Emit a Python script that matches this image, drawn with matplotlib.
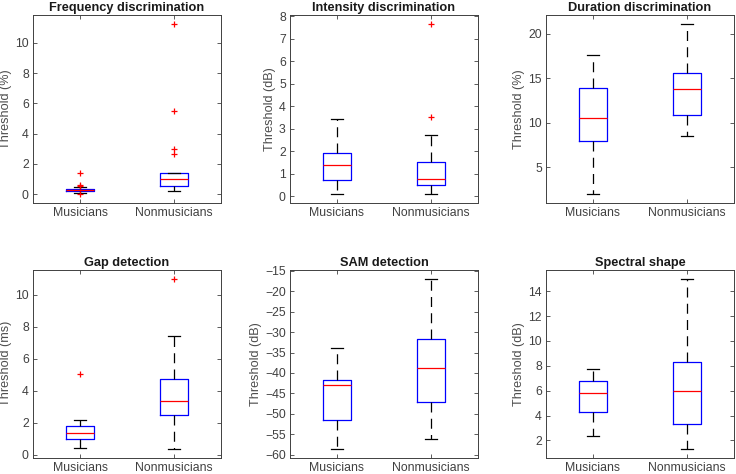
"""청력 과제별 역치 박스플롯 (Musicians vs Nonmusicians)."""

import matplotlib
matplotlib.use("Agg")
import matplotlib.pyplot as plt

plt.rcParams["font.family"] = ["Liberation Sans", "DejaVu Sans"]

GROUPS = ["Musicians", "Nonmusicians"]
TITLES = [
    "Frequency discrimination", "Intensity discrimination", "Duration discrimination",
    "Gap detection", "SAM detection", "Spectral shape",
]
YLABELS = [
    "Threshold (%)", "Threshold (dB)", "Threshold (%)",
    "Threshold (ms)", "Threshold (dB)", "Threshold (dB)",
]

# 그림에서 읽은 박스플롯 통계값 [Musicians, Nonmusicians]
whisker_lo = [[0.10, 0.24], [0.10, 0.10], [2.0, 8.5], [0.42, 0.35], [-58.6, -56.2], [2.35, 1.33]]
q1 = [[0.18, 0.55], [0.74, 0.52], [8.0, 10.87], [1.0, 2.47], [-51.6, -47.1], [4.25, 3.34]]
median = [[0.28, 1.01], [1.38, 0.79], [10.57, 13.83], [1.33, 3.33], [-42.9, -38.8], [5.83, 5.99]]
q3 = [[0.35, 1.41], [1.93, 1.53], [13.86, 15.62], [1.79, 4.72], [-41.8, -31.8], [6.77, 8.29]]
whisker_hi = [[0.48, 1.43], [3.44, 2.74], [17.64, 21.12], [2.18, 7.42], [-33.9, -17.0], [7.76, 14.99]]
outliers = [
    [[1.43, 0.62, 0.55, 0.02], [11.25, 5.5, 3.0, 2.67]],
    [[], [7.67, 3.54]],
    [[], []],
    [[5.05], [10.98]],
    [[], []],
    [[], []],
]

YLIMS = [(-0.55, 11.83), (-0.27, 8.06), (1.07, 22.1), (-0.17, 11.54), (-60.65, -14.84), (0.63, 15.71)]
YTICKS = [
    range(0, 11, 2), range(0, 9), [5, 10, 15, 20],
    range(0, 11, 2), range(-60, -14, 5), range(2, 15, 2),
]

# 축 위치 (픽셀 기준 → figure 비율)
W, H = 736, 474
LEFTS = [33, 290, 546]
TOPS = [15, 270]
AX_W, AX_H = 188, 187.5

fig = plt.figure(figsize=(W / 100, H / 100), dpi=100)

for i in range(6):
    r, c = divmod(i, 3)
    ax = fig.add_axes([LEFTS[c] / W, 1 - (TOPS[r] + AX_H) / H, AX_W / W, AX_H / H])

    stats = []
    for g in range(2):
        stats.append({
            "whislo": whisker_lo[i][g], "q1": q1[i][g], "med": median[i][g],
            "q3": q3[i][g], "whishi": whisker_hi[i][g], "fliers": outliers[i][g],
        })

    ax.bxp(
        stats, positions=[1, 2], widths=0.3, showfliers=True,
        boxprops=dict(color="#0000ff", linewidth=0.9),
        medianprops=dict(color="#ff0000", linewidth=0.9),
        whiskerprops=dict(color="black", linewidth=0.9, linestyle=(0, (8, 5))),
        capprops=dict(color="black", linewidth=0.9),
        capwidths=0.13,
        flierprops=dict(marker="+", markeredgecolor="#ff0000", markersize=5, markeredgewidth=0.9, linestyle="none"),
    )

    ax.set_xlim(0.5, 2.5)
    ax.set_ylim(*YLIMS[i])
    ax.set_yticks(list(YTICKS[i]))
    ax.set_xticks([1, 2])
    ax.set_xticklabels(GROUPS)
    ax.set_title(TITLES[i], fontsize=9.2, fontweight="bold", color="#1a1a1a", pad=3)
    ax.set_ylabel(YLABELS[i], fontsize=9.1, color="#4d4d4d", labelpad=2)

    ax.tick_params(direction="in", top=True, right=True, length=3, width=0.6,
                   labelsize=8.8, colors="#404040", pad=3)
    for spine in ax.spines.values():
        spine.set_color("#404040")
        spine.set_linewidth(0.7)

plt.savefig("out.png", dpi=100)
